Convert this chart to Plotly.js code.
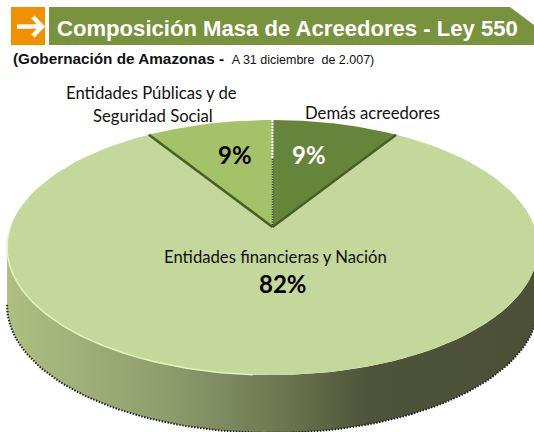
<!DOCTYPE html>
<html><head><meta charset="utf-8">
<script src="https://cdn.plot.ly/plotly-3.0.1.min.js"></script>
<style>html,body{margin:0;padding:0;background:#fff}#c{width:534px;height:432px}</style>
</head><body><div id="c"></div>
<script>
const categories = ["Demás acreedores", "Entidades financieras y Nación", "Entidades Públicas y de Seguridad Social"];
const values = [9, 82, 9];
const sliceColors = ["#66843a", "#c5d89b", "#a4c368"];
const titleText = "Composición Masa de Acreedores - Ley 550";

// perspective projection of the pie disc onto the page axes
const CX = 272.5, CY = 227, A = 262, B = 124.2, R = 0.1608, DEPTH = 58;
function proj(theta, rad, dy) {
  const u = rad * Math.sin(theta), v = rad * Math.cos(theta), k = 1 + R * v;
  return [CX + A * u / k, CY - B * v / k + (dy || 0)];
}
function arc(a0, a1, dy) {
  const xs = [], ys = [], n = 90;
  for (let i = 0; i <= n; i++) {
    const p = proj(a0 + (a1 - a0) * i / n, 1, dy);
    xs.push(p[0]); ys.push(p[1]);
  }
  return [xs, ys];
}
const TAU = 2 * Math.PI, total = values.reduce((a, b) => a + b, 0);
const traces = [];
const base = {type: "scatter", mode: "lines", hoverinfo: "skip", showlegend: false, xaxis: "x", yaxis: "y"};

// side wall
const wallStart = 0.55 * Math.PI, wallEnd = TAU - wallStart;
const wTop = arc(wallStart, wallEnd, 0), wBot = arc(wallEnd, wallStart, DEPTH);
traces.push(Object.assign({}, base, {
  x: wTop[0].concat(wBot[0]), y: wTop[1].concat(wBot[1]), fill: "toself",
  line: {width: 0, color: "rgba(0,0,0,0)"},
  fillgradient: {type: "horizontal", colorscale: [[0, "#aebf80"], [0.3, "#8f9d6d"], [0.52, "#6c7650"], [0.68, "#4e5439"], [1, "#4b5037"]]}
}));
// stippled outer edge
traces.push(Object.assign({}, base, {x: wBot[0], y: wBot[1], line: {color: "#222", width: 2, dash: "1.5px,1.5px"}}));

// slices, from cumulative values, clockwise from 12 o'clock
let cum = 0;
const bounds = [];
values.forEach((val, i) => {
  const a0 = cum / total * TAU; cum += val; const a1 = cum / total * TAU;
  bounds.push(a0);
  const e = arc(a0, a1, 0);
  traces.push(Object.assign({}, base, {
    name: categories[i],
    x: [CX].concat(e[0], [CX]), y: [CY].concat(e[1], [CY]), fill: "toself",
    fillcolor: sliceColors[i], line: {width: 0, color: "rgba(0,0,0,0)"}
  }));
});
// dark radial edges around the main slice
[bounds[1], bounds[2]].forEach(a => {
  const p = proj(a, 1, 0);
  traces.push(Object.assign({}, base, {x: [CX, p[0]], y: [CY, p[1]], line: {color: "#4a5f28", width: 2.5}}));
});
// centre seam: white dots outside, dark dots inside
const seam = proj(0, 1, 0), mid = proj(0, 0.6, 0);
traces.push(Object.assign({}, base, {x: [seam[0], mid[0]], y: [seam[1], mid[1]], line: {color: "#fff", width: 2, dash: "2px,1px"}}));
traces.push(Object.assign({}, base, {x: [mid[0], CX], y: [mid[1], CY], line: {color: "#26301a", width: 1.5, dash: "1px,1.5px"}}));
// pale highlight on the lower-left rim
const hl = arc(Math.PI * 1.02, Math.PI * 1.5, 0);
traces.push(Object.assign({}, base, {x: hl[0], y: hl[1], line: {color: "#e6f3bd", width: 1.5}}));

function note(text, x, y, size, color, bold, anchor) {
  return {text: bold ? "<b>" + text + "</b>" : text, x, y, xref: "x", yref: "y", showarrow: false,
    xanchor: anchor || "center", yanchor: "middle",
    font: {family: "Lato, Carlito, sans-serif", size, color}};
}
const annotations = [
  note("Entidades Públicas y de", 151, 93, 16.7, "#111"),
  note("Seguridad Social", 153, 116, 16.7, "#111"),
  note(categories[0], 372, 113, 16.7, "#111"),
  note(categories[1], 275, 257, 16.7, "#111"),
  note(values[1] + "%", 283, 283, 24, "#000", true),
  note(values[2] + "%", 235, 154, 24, "#000", true),
  note(values[0] + "%", 309, 154, 24, "#fff", true),
  {text: "<b>(Gobernación de Amazonas - </b><span style=\"font-size:12.5px\">\u00A0A 31 diciembre  de 2.007)</span>",
   x: 11, y: 58, xref: "x", yref: "y", showarrow: false, xanchor: "left", yanchor: "middle",
   font: {family: "Liberation Sans, Arial, sans-serif", size: 15.3, color: "#111"}}
];

const layout = {
  width: 534, height: 432,
  margin: {l: 0, r: 0, t: 0, b: 0},
  paper_bgcolor: "#fff", plot_bgcolor: "#fff",
  showlegend: false,
  title: {text: "<b>" + titleText + "</b>", x: 57 / 534, xref: "paper", xanchor: "left",
          y: 1 - 28 / 432, yref: "paper", yanchor: "middle",
          font: {family: "Liberation Sans, Arial, sans-serif", size: 22.1, color: "#fff"}},
  xaxis: {range: [0, 534], visible: false, fixedrange: true},
  yaxis: {range: [432, 0], visible: false, fixedrange: true},
  shapes: [
    {type: "rect", xref: "x", yref: "y", x0: 11, x1: 45, y0: 7, y1: 45, fillcolor: "#f19100", line: {width: 0}, layer: "above"},
    {type: "path", xref: "x", yref: "y", path: "M17,26.5 L41,26.5 M33,17 L42,26.5 L33,36", fillcolor: "rgba(0,0,0,0)", line: {color: "#fff", width: 4.5}, layer: "above"},
    {type: "path", xref: "x", yref: "y", path: "M49,7 L510,7 L534,25 L534,45 L49,45 Z", fillcolor: "#78923d", line: {width: 0}, layer: "above"}
  ],
  annotations
};
Plotly.newPlot("c", traces, layout, {displayModeBar: false, staticPlot: true});
</script></body></html>
